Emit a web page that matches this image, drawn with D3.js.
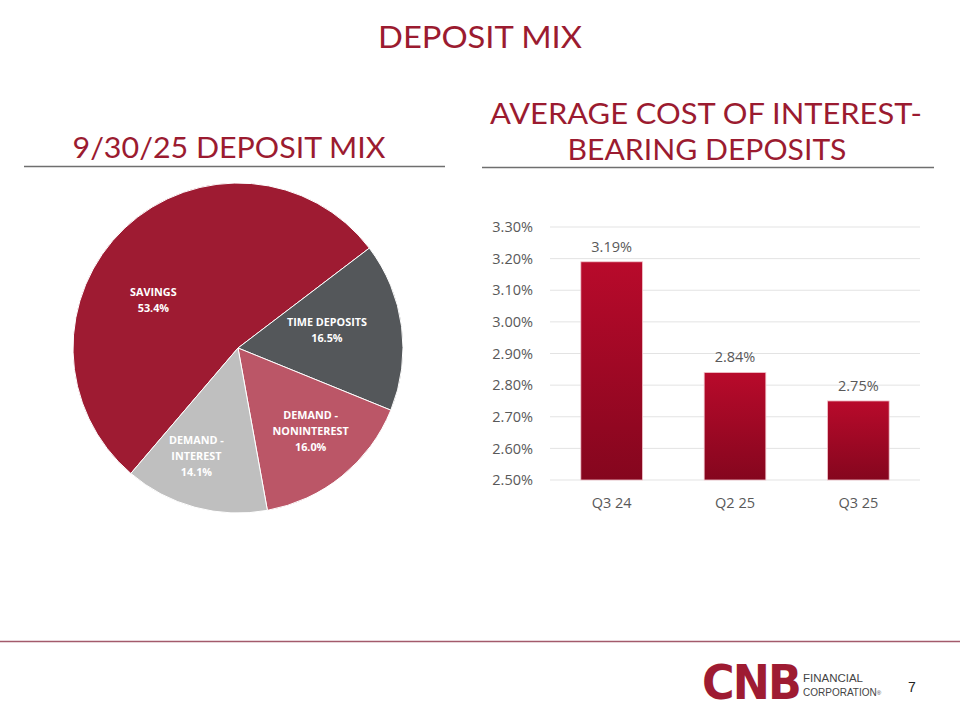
<!DOCTYPE html>
<html>
<head>
<meta charset="utf-8">
<script src="https://cdn.jsdelivr.net/npm/d3@7"></script>
<style>
  body { margin: 0; background: #fff; }
  svg { display: block; }
</style>
</head>
<body>
<svg id="slide" width="960" height="720"></svg>
<script>
// pie data
var mixLabels = [["SAVINGS"], ["TIME DEPOSITS"], ["DEMAND -", "NONINTEREST"], ["DEMAND -", "INTEREST"]];
var mixValues = [53.4, 16.5, 16.0, 14.1];
var mixColors = ["#9e1b32", "#54575a", "#bb5667", "#bfbfbf"];

// bar data
var quarters = ["Q3 24", "Q2 25", "Q3 25"];
var costValues = [3.19, 2.84, 2.75];
var yTicks = [2.5, 2.6, 2.7, 2.8, 2.9, 3.0, 3.1, 3.2, 3.3];

var red = "#9b1b30";
var svg = d3.select("#slide");

// gradient for bars
var grad = svg.append("defs").append("linearGradient")
  .attr("id", "barGrad").attr("x1", 0).attr("y1", 0).attr("x2", 0).attr("y2", 1);
grad.append("stop").attr("offset", "0%").attr("stop-color", "#b80a2b");
grad.append("stop").attr("offset", "100%").attr("stop-color", "#85061e");

// titles
svg.append("text")
  .attr("x", 480).attr("y", 48)
  .attr("text-anchor", "middle")
  .attr("font-family", "Lato").attr("font-size", 31)
  .attr("textLength", 204).attr("lengthAdjust", "spacingAndGlyphs")
  .attr("fill", red).text("DEPOSIT MIX");

svg.append("text")
  .attr("x", 229).attr("y", 158)
  .attr("text-anchor", "middle")
  .attr("font-family", "Lato").attr("font-size", 29)
  .attr("textLength", 313).attr("lengthAdjust", "spacingAndGlyphs")
  .attr("fill", red).text("9/30/25 DEPOSIT MIX");

svg.append("text")
  .attr("x", 706).attr("y", 124)
  .attr("text-anchor", "middle")
  .attr("font-family", "Lato").attr("font-size", 29)
  .attr("textLength", 432).attr("lengthAdjust", "spacingAndGlyphs")
  .attr("fill", red).text("AVERAGE COST OF INTEREST-");

svg.append("text")
  .attr("x", 707).attr("y", 160)
  .attr("text-anchor", "middle")
  .attr("font-family", "Lato").attr("font-size", 29)
  .attr("textLength", 279).attr("lengthAdjust", "spacingAndGlyphs")
  .attr("fill", red).text("BEARING DEPOSITS");

// underlines
svg.append("line").attr("x1", 24).attr("x2", 445).attr("y1", 166.5).attr("y2", 166.5)
  .attr("stroke", "#6f6f6f").attr("stroke-width", 1.5);
svg.append("line").attr("x1", 482).attr("x2", 934).attr("y1", 167.5).attr("y2", 167.5)
  .attr("stroke", "#6f6f6f").attr("stroke-width", 1.5);

//------------------- pie -------------------//
var cx = 238, cy = 348, r = 165;
var startDeg = -139.5;

var pie = d3.pie().sort(null)
  .startAngle(startDeg * Math.PI / 180)
  .endAngle((startDeg + 360) * Math.PI / 180);
var arcs = pie(mixValues);
var arc = d3.arc().innerRadius(0).outerRadius(r);

var pieG = svg.append("g").attr("transform", "translate(" + cx + "," + cy + ")");
pieG.selectAll("path")
  .data(arcs)
  .enter()
  .append("path")
  .attr("d", arc)
  .attr("fill", function(d, i) { return mixColors[i]; })
  .attr("stroke", "#fff").attr("stroke-width", 1);

// label placement: radius factor and angle nudge (degrees) per slice
var labelR = [0.59, 0.55, 0.67, 0.70];
var labelShift = [-17, -4, -2, 6];
var labelG = pieG.selectAll(".lbl")
  .data(arcs)
  .enter()
  .append("text")
  .attr("class", "lbl")
  .attr("text-anchor", "middle")
  .attr("font-family", "Open Sans").attr("font-weight", 700)
  .attr("font-size", 10.8).attr("fill", "#fff")
  .attr("transform", function(d, i) {
    var a = (d.startAngle + d.endAngle) / 2 + labelShift[i] * Math.PI / 180;
    var rr = r * labelR[i];
    var lines = mixLabels[i].length + 1;
    var x = Math.sin(a) * rr, y = -Math.cos(a) * rr - (lines - 1) * 16 / 2 + 4;
    return "translate(" + x + "," + y + ")";
  });
labelG.each(function(d, i) {
  var t = d3.select(this);
  mixLabels[i].concat([d3.format(".1f")(d.data) + "%"]).forEach(function(s, k) {
    t.append("tspan").attr("x", 0).attr("dy", k === 0 ? 0 : 16).text(s);
  });
});

//------------------- bars -------------------//
var x = d3.scaleBand().domain(quarters).range([550, 920]).paddingInner(0.5).paddingOuter(0.25);
var y = d3.scaleLinear().domain([2.5, 3.3]).range([480, 227]);

var barG = svg.append("g");
barG.selectAll(".grid")
  .data(yTicks)
  .enter()
  .append("line")
  .attr("x1", 550).attr("x2", 920)
  .attr("y1", function(d) { return y(d); }).attr("y2", function(d) { return y(d); })
  .attr("stroke", "#e3e3e3").attr("stroke-width", 1);

var yAxis = barG.append("g").attr("transform", "translate(550,0)")
  .call(d3.axisLeft(y).tickValues(yTicks).tickSize(0).tickPadding(17)
    .tickFormat(function(d) { return d3.format(".2f")(d) + "%"; }));
yAxis.select(".domain").remove();
yAxis.selectAll("text").attr("font-family", "Open Sans").attr("font-size", 14.5).attr("fill", "#595959");

var xAxis = barG.append("g").attr("transform", "translate(0,480)")
  .call(d3.axisBottom(x).tickSize(0).tickPadding(18));
xAxis.select(".domain").remove();
xAxis.selectAll("text").attr("font-family", "Open Sans").attr("font-size", 14.5).attr("fill", "#595959");

barG.selectAll(".bar")
  .data(costValues)
  .enter()
  .append("rect")
  .attr("x", function(d, i) { return x(quarters[i]); })
  .attr("width", x.bandwidth())
  .attr("y", function(d) { return y(d); })
  .attr("height", function(d) { return y(2.5) - y(d); })
  .attr("fill", "url(#barGrad)")
  .attr("stroke", "#f2c6cd").attr("stroke-width", 0.8);

barG.selectAll(".val")
  .data(costValues)
  .enter()
  .append("text")
  .attr("x", function(d, i) { return x(quarters[i]) + x.bandwidth() / 2; })
  .attr("y", function(d) { return y(d) - 10; })
  .attr("text-anchor", "middle")
  .attr("font-family", "Open Sans").attr("font-size", 14.5).attr("fill", "#595959")
  .text(function(d) { return d3.format(".2f")(d) + "%"; });

//------------------- footer -------------------//
svg.append("line").attr("x1", 0).attr("x2", 960).attr("y1", 641.5).attr("y2", 641.5)
  .attr("stroke", "#a35a6b").attr("stroke-width", 1.5);

svg.append("text")
  .attr("x", 702).attr("y", 699)
  .attr("font-family", "DejaVu Sans").attr("font-weight", 700).attr("font-size", 48)
  .attr("textLength", 98).attr("lengthAdjust", "spacingAndGlyphs")
  .attr("fill", "#9e1b32").attr("letter-spacing", -2).text("CNB");

svg.append("text")
  .attr("x", 803).attr("y", 682)
  .attr("font-family", "Liberation Sans").attr("font-size", 11.5)
  .attr("textLength", 60).attr("lengthAdjust", "spacingAndGlyphs")
  .attr("fill", "#444").text("FINANCIAL");
var corp = svg.append("text")
  .attr("x", 803).attr("y", 696)
  .attr("font-family", "Liberation Sans").attr("font-size", 10)
  .attr("fill", "#444");
corp.append("tspan").text("CORPORATION");
corp.append("tspan").attr("dy", -1).attr("font-size", 6).text("®");

svg.append("text")
  .attr("x", 912).attr("y", 692)
  .attr("text-anchor", "middle")
  .attr("font-family", "Liberation Sans").attr("font-size", 14)
  .attr("fill", "#222").text("7");
</script>
</body>
</html>
